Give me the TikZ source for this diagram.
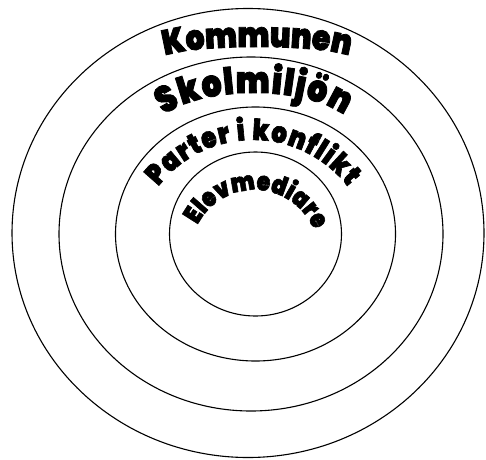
\documentclass[tikz,border=0pt]{standalone}
\usepackage{fontspec}
\usetikzlibrary{decorations.text,calc}
\newfontfamily\wordart{Poppins Black}[FakeBold=2.2,FakeStretch=0.85]

\begin{document}
\begin{tikzpicture}[x=1pt,y=1pt,
  ring/.style={line width=1.1pt},
  arch/.style={decorate,decoration={text along path,text align=fit to path,text={#1}}}]
\useasboundingbox (0,0) rectangle (486,459);
% ---------- centres ----------
\coordinate (komc) at (248,226);
\coordinate (skoc) at (251,225);
\coordinate (parc) at (255.5,225);
\coordinate (elec) at (255.5,225);
% ---------- the four rings ----------
\draw[ring] (komc) ellipse[x radius=236pt,y radius=224.5pt];
\draw[ring] (skoc) ellipse[x radius=192pt,y radius=177pt];
\draw[ring] (parc) ellipse[x radius=140pt,y radius=127pt];
\draw[ring] (elec) ellipse[x radius=86pt,y radius=82pt];
% ---------- arched labels ----------
\coordinate (komt) at (257,399);
\path[arch={|\wordart\fontsize{35}{35}\selectfont|Kommunen}]
  ($(komt)+(161.8:97pt and 13pt)$) arc[start angle=161.8,end angle=18.2,x radius=97pt,y radius=13pt];
\coordinate (skot) at (254,324);
\path[arch={|\wordart\fontsize{37}{37}\selectfont|Skolmiljön}]
  ($(skot)+(152:102pt and 42pt)$) arc[start angle=152,end angle=28,x radius=102pt,y radius=42pt];
\coordinate (part) at (253,199.5);
\path[arch={|\wordart\fontsize{29}{29}\selectfont|Parter i konflikt}]
  ($(part)+(142.4:119.5pt)$) arc[start angle=142.4,end angle=37.6,radius=119.5pt];
\coordinate (elet) at (254.5,205);
\path[arch={|\wordart\fontsize{26}{26}\selectfont|Elevmediare}]
  ($(elet)+(153:64pt)$) arc[start angle=153,end angle=27,radius=64pt];
\end{tikzpicture}
\end{document}
